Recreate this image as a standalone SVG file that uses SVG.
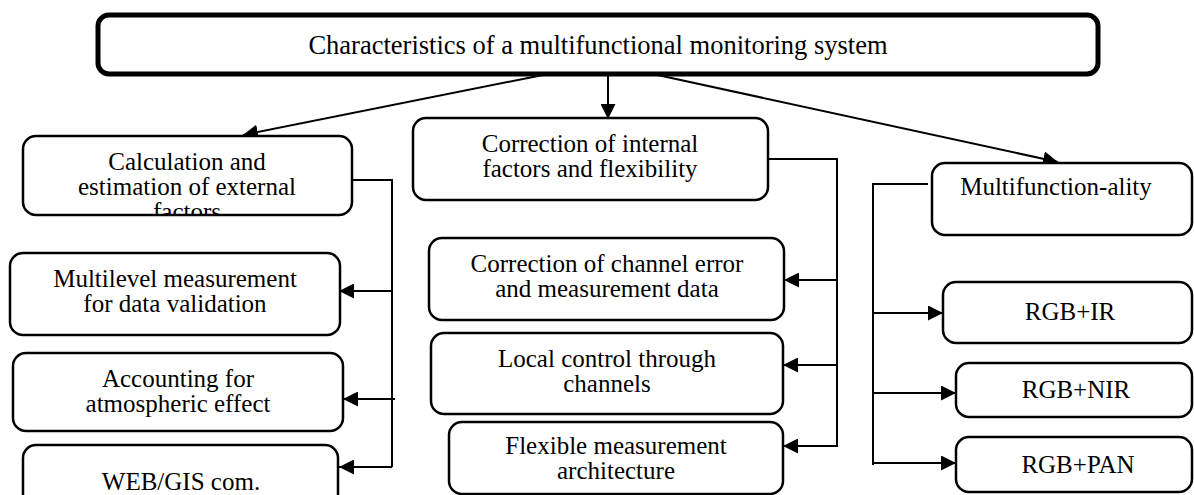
<svg xmlns="http://www.w3.org/2000/svg" width="1194" height="495" viewBox="0 0 1194 495">
<style>
.box{fill:#fff;stroke:#000;stroke-width:2.5}
.main{fill:#fff;stroke:#000;stroke-width:5}
.t{font-size:25px;fill:#000;text-anchor:middle}
.title{font-size:26.5px}
.c{fill:none;stroke:#000;stroke-width:2}
.a{fill:none;stroke:#000;stroke-width:2;marker-end:url(#arr)}
</style>
<defs>
<marker id="arr" markerUnits="userSpaceOnUse" markerWidth="15" markerHeight="15" refX="15" refY="7.5" orient="auto">
<path d="M0,0 L15,7.5 L0,15 z" fill="#000"/>
</marker>
<clipPath id="clipCalc"><rect x="22" y="136" width="330" height="78"/></clipPath>
</defs>
<rect width="1194" height="495" fill="#fff"/>

<g id="connectors">
<path class="a" d="M548,74 L243,135"/>
<path class="a" d="M608,74 L608,119"/>
<path class="a" d="M653,74 L1058,162"/>
<path class="c" d="M352,180 H392 V467"/>
<path class="a" d="M392,291 H339"/>
<path class="a" d="M395,399 H343"/>
<path class="a" d="M392,467 H339"/>
<path class="c" d="M768,159 H837 V447"/>
<path class="a" d="M837,280 H784"/>
<path class="a" d="M837,365 H783"/>
<path class="a" d="M837,446 H783"/>
<path class="c" d="M928,184 H873 V465"/>
<path class="a" d="M873,313 H943"/>
<path class="a" d="M873,393 H956"/>
<path class="a" d="M873,463 H956"/>
</g>

<g font-family="'Liberation Serif', 'Times New Roman', 'DejaVu Serif', serif">
<g id="root">
<rect class="main" x="98" y="15" width="1000" height="59" rx="11"/>
<text class="t title" x="598" y="54">Characteristics of a multifunctional monitoring system</text>
</g>

<g id="calc">
<rect class="box" x="23" y="136" width="329" height="79" rx="13"/>
<text class="t" x="187" y="169.5">Calculation and</text>
<text class="t" x="187" y="194.5">estimation of external</text>
<text class="t" x="187" y="220" clip-path="url(#clipCalc)">factors</text>
</g>

<g id="multilevel">
<rect class="box" x="10" y="253" width="330" height="82" rx="13"/>
<text class="t" x="175" y="287">Multilevel measurement</text>
<text class="t" x="175" y="312">for data validation</text>
</g>

<g id="accounting">
<rect class="box" x="13" y="353" width="330" height="78" rx="13"/>
<text class="t" x="178" y="387">Accounting for</text>
<text class="t" x="178" y="412">atmospheric effect</text>
</g>

<g id="webgis">
<rect class="box" x="23" y="445" width="315" height="65" rx="13"/>
<text class="t" x="181" y="490">WEB/GIS com.</text>
</g>

<g id="internal">
<rect class="box" x="413" y="118" width="355" height="82" rx="13"/>
<text class="t" x="590" y="152">Correction of internal</text>
<text class="t" x="590" y="177">factors and flexibility</text>
</g>

<g id="channel">
<rect class="box" x="429" y="238" width="355" height="82" rx="13"/>
<text class="t" x="607" y="272">Correction of channel error</text>
<text class="t" x="607" y="297">and measurement data</text>
</g>

<g id="local">
<rect class="box" x="431" y="333" width="352" height="81" rx="13"/>
<text class="t" x="607" y="367">Local control through</text>
<text class="t" x="607" y="392">channels</text>
</g>

<g id="flexible">
<rect class="box" x="449" y="422" width="334" height="72" rx="13"/>
<text class="t" x="616" y="454">Flexible measurement</text>
<text class="t" x="616" y="479">architecture</text>
</g>

<g id="multifunction">
<rect class="box" x="932" y="163" width="260" height="72" rx="13"/>
<text class="t" x="1056" y="195">Multifunction-ality</text>
</g>

<g id="rgbir">
<rect class="box" x="943" y="282" width="249" height="61" rx="13"/>
<text class="t" x="1070" y="320">RGB+IR</text>
</g>

<g id="rgbnir">
<rect class="box" x="956" y="363" width="236" height="54" rx="13"/>
<text class="t" x="1076" y="398">RGB+NIR</text>
</g>

<g id="rgbpan">
<rect class="box" x="956" y="437" width="236" height="55" rx="13"/>
<text class="t" x="1078" y="473">RGB+PAN</text>
</g>
</g>
</svg>
